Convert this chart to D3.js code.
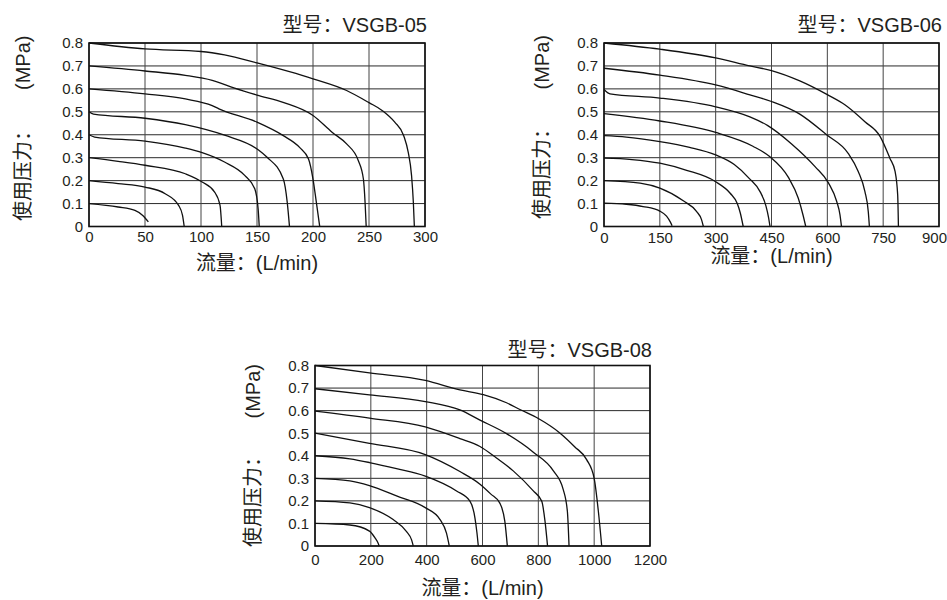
<!DOCTYPE html>
<html>
<head>
<meta charset="utf-8">
<script src="https://cdn.jsdelivr.net/npm/d3@7"></script>
<style>
  body { margin: 0; background: #fff; }
  text { font-family: "Liberation Sans", Arial, "Noto Sans CJK SC", sans-serif; fill: #231f20; }
</style>
</head>
<body>
<div id="chart"></div>
<script>
// pressure levels (MPa) and tick labels
var yTicks = [0, 0.1, 0.2, 0.3, 0.4, 0.5, 0.6, 0.7, 0.8];
var yLabels = ["0", "0.1", "0.2", "0.3", "0.4", "0.5", "0.6", "0.7", "0.8"];
var xTicks05 = [0, 50, 100, 150, 200, 250, 300];
var xTicks06 = [0, 150, 300, 450, 600, 750, 900];
var xTicks08 = [0, 200, 400, 600, 800, 1000, 1200];

// flow (L/min) vs pressure (MPa), one curve per supply pressure
var curves05 = [
  [[0,0.1],[26,0.085],[41,0.07],[48,0.048],[53,0.02]],
  [[0,0.2],[26,0.187],[50,0.172],[68,0.143],[80,0.092],[83.5,0.048],[85,0]],
  [[0,0.3],[26,0.284],[50,0.267],[86,0.23],[101,0.194],[112,0.151],[117,0.092],[118.5,0]],
  [[0,0.4],[5,0.39],[50,0.372],[86,0.342],[101,0.322],[121,0.281],[139,0.223],[148,0.165],[151,0.077],[152,0]],
  [[0,0.5],[4,0.49],[50,0.472],[86,0.444],[121,0.398],[151,0.335],[159,0.302],[173.5,0.207],[177,0.105],[179,0]],
  [[0,0.6],[50,0.578],[86,0.556],[110,0.527],[116,0.513],[150,0.455],[173.5,0.396],[188,0.345],[196,0.294],[200,0.207],[203,0.105],[206,0]],
  [[0,0.7],[50,0.678],[86,0.659],[110,0.637],[130,0.603],[150,0.573],[174,0.54],[200,0.484],[217,0.411],[230,0.36],[240.5,0.287],[245,0.207],[246.5,0.105],[247.5,0]],
  [[0,0.8],[50,0.774],[100,0.763],[121,0.748],[150,0.713],[200,0.644],[230,0.593],[250,0.54],[262,0.505],[273,0.455],[281,0.396],[285,0.324],[288,0.222],[289.6,0.105],[290.5,0]]
];
var curves06 = [
  [[0,0.102],[60,0.097],[105,0.087],[150,0.067],[168,0.045],[178,0.02],[183,0.003]],
  [[0,0.2],[97,0.189],[150,0.167],[213,0.112],[249,0.065],[262,0.03],[267,0]],
  [[0,0.298],[75,0.292],[150,0.276],[222,0.245],[299,0.196],[339,0.145],[358,0.1],[366,0.06],[374,0]],
  [[0,0.396],[60,0.39],[150,0.37],[230,0.345],[300,0.312],[350,0.27],[390,0.21],[420,0.15],[435,0.09],[442,0.04],[446,0]],
  [[0,0.492],[150,0.46],[300,0.41],[400,0.35],[445,0.305],[495,0.215],[522,0.123],[535,0.048],[542,0]],
  [[0,0.597],[16,0.578],[150,0.56],[300,0.522],[392,0.478],[440,0.44],[504,0.36],[567,0.261],[603,0.19],[625,0.11],[634,0.051],[638,0]],
  [[0,0.69],[150,0.66],[300,0.617],[392,0.574],[450,0.545],[526,0.49],[598,0.4],[656,0.319],[683,0.24],[701,0.152],[710,0.065],[713,0]],
  [[0,0.8],[150,0.773],[300,0.735],[392,0.7],[450,0.68],[526,0.635],[600,0.575],[648,0.53],[701,0.457],[742,0.392],[768,0.298],[782,0.24],[789,0.138],[791,0]]
];
var curves08 = [
  [[0,0.1],[125,0.093],[195,0.066],[215,0.036],[227,0.01],[230,0]],
  [[0,0.2],[125,0.191],[195,0.17],[280,0.117],[328,0.064],[346,0.027],[352,0]],
  [[0,0.3],[125,0.289],[195,0.268],[292,0.222],[395,0.17],[448,0.117],[471,0.057],[481,0]],
  [[0,0.4],[125,0.386],[195,0.37],[292,0.343],[395,0.31],[507,0.244],[555,0.199],[573,0.124],[580,0.06],[585,0]],
  [[0,0.5],[195,0.455],[395,0.405],[519,0.33],[591,0.274],[630,0.23],[662,0.19],[680,0.109],[689,0]],
  [[0,0.598],[195,0.567],[395,0.528],[519,0.476],[591,0.441],[650,0.39],[710,0.333],[782,0.244],[812,0.199],[824,0.109],[833,0]],
  [[0,0.697],[195,0.67],[395,0.64],[519,0.603],[591,0.558],[686,0.498],[782,0.416],[854,0.333],[889,0.251],[904,0.154],[910,0]],
  [[0,0.8],[195,0.767],[395,0.734],[519,0.692],[603,0.671],[686,0.635],[734,0.605],[800,0.565],[878,0.5],[930,0.44],[973,0.383],[1000,0.3],[1015,0.154],[1027,0]]
];

var charts = [
  {title: "型号：VSGB-05", curves: curves05, xTicks: xTicks05,
   left: 89, right: 425, top: 43, bottom: 226.5, tickPad: 5, lastShift: 0,
   titleX: 427, titleY: 32, xTitleY: 263, yTitleX: 22.5, yTitleY1: 221, yTitleY2: 90},
  {title: "型号：VSGB-06", curves: curves06, xTicks: xTicks06,
   left: 604, right: 939, top: 43, bottom: 226.5, tickPad: 6, lastShift: -5,
   titleX: 942, titleY: 32, xTitleY: 256, yTitleX: 542, yTitleY1: 219, yTitleY2: 89.5},
  {title: "型号：VSGB-08", curves: curves08, xTicks: xTicks08,
   left: 315, right: 650, top: 365.5, bottom: 546, tickPad: 8.5, lastShift: 0,
   titleX: 652, titleY: 356.5, xTitleY: 588, yTitleX: 252.5, yTitleY1: 547, yTitleY2: 418.5}
];

var svg = d3.select("#chart")
  .append("svg")
  .attr("width", 947)
  .attr("height", 600);

charts.forEach(function(c) {
  var x = d3.scaleLinear()
    .domain([0, c.xTicks[c.xTicks.length - 1]])
    .range([c.left, c.right]);
  var y = d3.scaleLinear()
    .domain([0, 0.8])
    .range([c.bottom, c.top]);

  var g = svg.append("g");

  // grid
  g.selectAll(".hgrid")
    .data(yTicks)
    .enter()
    .append("line")
    .attr("x1", c.left)
    .attr("x2", c.right)
    .attr("y1", d => y(d))
    .attr("y2", d => y(d))
    .attr("stroke", "#2a2a2a")
    .attr("stroke-width", 1);

  g.selectAll(".vgrid")
    .data(c.xTicks)
    .enter()
    .append("line")
    .attr("x1", d => x(d))
    .attr("x2", d => x(d))
    .attr("y1", c.top)
    .attr("y2", c.bottom)
    .attr("stroke", "#444")
    .attr("stroke-width", 1);

  // curves
  var line = d3.line()
    .x(d => x(d[0]))
    .y(d => y(d[1]))
    .curve(d3.curveMonotoneX);

  g.selectAll(".curve")
    .data(c.curves)
    .enter()
    .append("path")
    .attr("d", d => line(d))
    .attr("fill", "none")
    .attr("stroke", "#111")
    .attr("stroke-width", 1.3);

  // frame
  g.append("rect")
    .attr("x", c.left)
    .attr("y", c.top)
    .attr("width", c.right - c.left)
    .attr("height", c.bottom - c.top)
    .attr("fill", "none")
    .attr("stroke", "#111")
    .attr("stroke-width", 1.6);

  // axes
  var xAxis = g.append("g")
    .attr("transform", "translate(0," + c.bottom + ")")
    .call(d3.axisBottom(x).tickValues(c.xTicks).tickSize(0).tickPadding(c.tickPad)
      .tickFormat(d => String(d)));
  var yAxis = g.append("g")
    .attr("transform", "translate(" + c.left + ",0)")
    .call(d3.axisLeft(y).tickValues(yTicks).tickSize(0).tickPadding(6)
      .tickFormat((d, i) => yLabels[i]));
  [xAxis, yAxis].forEach(a => {
    a.select(".domain").remove();
    a.selectAll("text")
      .attr("font-family", null)
      .style("font-size", "15px")
      .style("fill", "#231f20");
  });
  xAxis.selectAll(".tick:last-child text").attr("x", c.lastShift);

  // titles
  g.append("text")
    .attr("x", c.titleX)
    .attr("y", c.titleY)
    .attr("text-anchor", "end")
    .style("font-size", "20px")
    .text(c.title);

  g.append("text")
    .attr("x", (c.left + c.right) / 2)
    .attr("y", c.xTitleY)
    .attr("text-anchor", "middle")
    .attr("dominant-baseline", "central")
    .style("font-size", "20px")
    .text("流量：(L/min)");

  g.append("text")
    .attr("transform", "translate(" + c.yTitleX + "," + c.yTitleY1 + ") rotate(-90)")
    .attr("text-anchor", "start")
    .attr("dominant-baseline", "central")
    .style("font-size", "20px")
    .text("使用压力：");

  g.append("text")
    .attr("transform", "translate(" + c.yTitleX + "," + c.yTitleY2 + ") rotate(-90)")
    .attr("text-anchor", "start")
    .attr("dominant-baseline", "central")
    .style("font-size", "20px")
    .text("(MPa)");
});
</script>
</body>
</html>
